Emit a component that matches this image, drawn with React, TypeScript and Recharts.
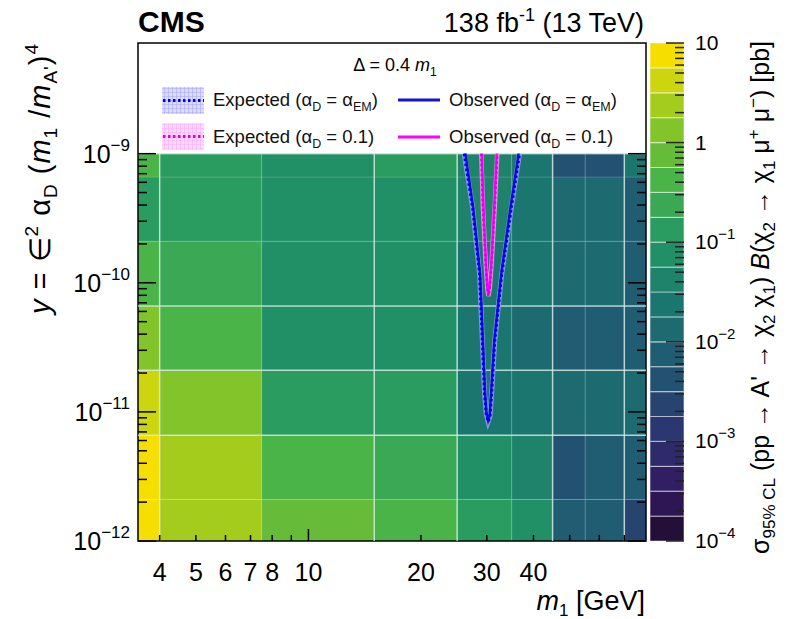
import React from "react";
import { ComposedChart, XAxis, YAxis, Line, ReferenceArea, ReferenceLine } from "recharts";

// ── Data ─────────────────────────────────────────────────────

// m1 bin edges [GeV] and y bin edges
const massEdges = [3.5, 4, 7.5, 15, 25, 35, 45, 55, 70, 80];
const yEdges = [1e-12, 2.1e-12, 6.6e-12, 2.1e-11, 6.6e-11, 2.1e-10, 6.6e-10, 1e-9];

// sigma_95%CL x B [pb]; one row per y bin (bottom to top), one value per m1 bin
const sigmaRows = [
  [7.5, 2.4, 0.75, 0.42, 0.13, 0.075, 0.0075, 0.0075, 0.0024],
  [7.5, 2.4, 0.42, 0.24, 0.075, 0.042, 0.0042, 0.0075, 0.0075],
  [4.2, 1.3, 0.13, 0.13, 0.024, 0.024, 0.013, 0.013, 0.013],
  [1.3, 0.42, 0.075, 0.075, 0.024, 0.013, 0.0075, 0.0075, 0.0075],
  [0.42, 0.24, 0.075, 0.075, 0.024, 0.024, 0.013, 0.013, 0.0075],
  [0.13, 0.13, 0.075, 0.075, 0.042, 0.024, 0.013, 0.013, 0.0075],
  [0.42, 0.13, 0.075, 0.13, 0.042, 0.024, 0.0042, 0.0042, 0.024],
];

// exclusion contours (m1 [GeV], y)
const expectedEM = [
  { x: 26.1, y: 1e-9 }, { x: 27.5, y: 3.8e-10 }, { x: 28.7, y: 1.17e-10 }, { x: 29.2, y: 3.5e-11 },
  { x: 29.6, y: 1.38e-11 }, { x: 29.9, y: 9.6e-12 }, { x: 30.25, y: 8.4e-12 }, { x: 30.6, y: 9.2e-12 },
  { x: 30.9, y: 1.38e-11 }, { x: 31.5, y: 3.5e-11 }, { x: 32.9, y: 1.17e-10 }, { x: 34.9, y: 3.8e-10 },
  { x: 36.7, y: 1e-9 },
];
const observedEM = [
  { x: 26.3, y: 1e-9 }, { x: 27.6, y: 3.8e-10 }, { x: 28.8, y: 1.17e-10 }, { x: 29.3, y: 3.5e-11 },
  { x: 29.7, y: 1.38e-11 }, { x: 29.95, y: 9.8e-12 }, { x: 30.25, y: 8.6e-12 }, { x: 30.55, y: 9.4e-12 },
  { x: 30.8, y: 1.38e-11 }, { x: 31.4, y: 3.5e-11 }, { x: 32.8, y: 1.17e-10 }, { x: 34.7, y: 3.8e-10 },
  { x: 36.5, y: 1e-9 },
];
const expectedD01 = [
  { x: 29.0, y: 1e-9 }, { x: 29.3, y: 3.8e-10 }, { x: 29.8, y: 1.4e-10 }, { x: 30.1, y: 9.0e-11 },
  { x: 30.3, y: 7.9e-11 }, { x: 30.55, y: 9.0e-11 }, { x: 30.9, y: 1.4e-10 }, { x: 31.5, y: 3.8e-10 },
  { x: 32.0, y: 1e-9 },
];
const observedD01 = [
  { x: 29.1, y: 1e-9 }, { x: 29.4, y: 3.8e-10 }, { x: 29.85, y: 1.4e-10 }, { x: 30.1, y: 9.2e-11 },
  { x: 30.3, y: 8.1e-11 }, { x: 30.5, y: 9.2e-11 }, { x: 30.85, y: 1.4e-10 }, { x: 31.4, y: 3.8e-10 },
  { x: 31.9, y: 1e-9 },
];

// ticks
const xTicks = [4, 5, 6, 7, 8, 9, 10, 20, 30, 40, 50, 60, 70];
const xLabels = [4, 5, 6, 7, 8, 10, 20, 30, 40];
const yTicks = [
  1e-12, 2e-12, 3e-12, 4e-12, 5e-12, 6e-12, 7e-12, 8e-12, 9e-12,
  1e-11, 2e-11, 3e-11, 4e-11, 5e-11, 6e-11, 7e-11, 8e-11, 9e-11,
  1e-10, 2e-10, 3e-10, 4e-10, 5e-10, 6e-10, 7e-10, 8e-10, 9e-10, 1e-9,
];
const zTicks = [
  1e-4, 2e-4, 3e-4, 4e-4, 5e-4, 6e-4, 7e-4, 8e-4, 9e-4,
  1e-3, 2e-3, 3e-3, 4e-3, 5e-3, 6e-3, 7e-3, 8e-3, 9e-3,
  0.01, 0.02, 0.03, 0.04, 0.05, 0.06, 0.07, 0.08, 0.09,
  0.1, 0.2, 0.3, 0.4, 0.5, 0.6, 0.7, 0.8, 0.9,
  1, 2, 3, 4, 5, 6, 7, 8, 9, 10,
];
const Z_MIN = 1e-4;
const Z_MAX = 10;
const Z_LEVELS = 20;

// bin boundaries that render as light seams
const seamX = [4, 15, 25, 45, 70];
const seamY = [6.6e-12, 2.1e-11, 6.6e-11];

// ── Palette ──────────────────────────────────────────────────

const viridisStops = [
  [26, 9, 30], [51, 24, 96], [43, 55, 112], [33, 87, 114], [28, 118, 112],
  [35, 150, 101], [74, 180, 72], [144, 200, 35], [246, 222, 0],
];

function viridis(t: number) {
  const p = Math.max(0, Math.min(1, t)) * 8;
  const k = Math.min(7, Math.floor(p));
  const f = p - k;
  const a = viridisStops[k];
  const b = viridisStops[k + 1];
  const c = a.map((v, i) => Math.round(v + (b[i] - v) * f));
  return `rgb(${c[0]},${c[1]},${c[2]})`;
}

function bandColor(band: number) {
  return viridis((band + 1) / Z_LEVELS);
}

function zColor(v: number) {
  const step = Math.log10(Z_MAX / Z_MIN) / Z_LEVELS;
  const band = Math.max(0, Math.min(Z_LEVELS - 1, Math.floor((Math.log10(v) - Math.log10(Z_MIN)) / step)));
  return bandColor(band);
}

// ── Helpers ──────────────────────────────────────────────────

const FONT = '"Liberation Sans", Arial, Helvetica, sans-serif';
const W = 787;
const H = 619;

const isDecade = (v: number) => {
  const e = Math.round(Math.log10(v));
  return Math.abs(v - Math.pow(10, e)) < 1e-6 * v;
};

// rich text: parts are [text, kind] with kind "" | "i" | "sub" | "sup"
type Part = [string, string?];

function rich(parts: Part[], small: number, subD: number, supD: number) {
  let cur = 0;
  return parts.map(([t, k], idx) => {
    const target = k === "sub" ? subD : k === "sup" ? -supD : 0;
    const dy = target - cur;
    cur = target;
    const script = k === "sub" || k === "sup";
    return (
      <tspan key={idx} dy={dy !== 0 ? dy : undefined} fontSize={script ? small : undefined} fontStyle={k === "i" ? "italic" : undefined}>
        {t}
      </tspan>
    );
  });
}

const PowLabel: React.FC<{ v: number; x: number; y: number; anchor: string; size: number; sup: number }> = ({ v, x, y, anchor, size, sup }) => {
  const e = Math.round(Math.log10(v));
  const parts: Part[] = e === 0 ? [["1"]] : e === 1 ? [["10"]] : [["10"], [`\u2212${-e}`, "sup"]];
  return (
    <text x={x} y={y} textAnchor={anchor} fontSize={size} fill="#000" fontFamily={FONT}>
      {rich(parts, sup, 0, size * 0.48)}
    </text>
  );
};

const XTick = (props: any) => {
  const { x, y, payload } = props;
  const v = payload.value;
  const major = v === 10;
  return (
    <g>
      <line x1={x} x2={x} y1={y} y2={y - (major ? 12 : 6)} stroke="#000" strokeWidth={1.5} />
      {xLabels.includes(v) && (
        <text x={x} y={y + 40} textAnchor="middle" fontSize={25} fill="#000" fontFamily={FONT}>{v}</text>
      )}
    </g>
  );
};

const YTickLeft = (props: any) => {
  const { x, y, payload } = props;
  const major = isDecade(payload.value);
  return (
    <g>
      <line x1={x} x2={x + (major ? 18 : 9)} y1={y} y2={y} stroke="#000" strokeWidth={1.5} />
      {major && <PowLabel v={payload.value} x={x - 8} y={y + 9} anchor="end" size={25} sup={17} />}
    </g>
  );
};

const YTickRight = (props: any) => {
  const { x, y, payload } = props;
  const major = isDecade(payload.value);
  return <line x1={x} x2={x - (major ? 18 : 9)} y1={y} y2={y} stroke="#000" strokeWidth={1.5} />;
};

const ZTick = (props: any) => {
  const { x, y, payload } = props;
  const major = isDecade(payload.value);
  return (
    <g>
      <line x1={x} x2={x - (major ? 18 : 9)} y1={y} y2={y} stroke="#222" strokeWidth={1.5} />
      {major && <PowLabel v={payload.value} x={x + 11} y={y + 7} anchor="start" size={21} sup={15} />}
    </g>
  );
};

// ── Main plot ────────────────────────────────────────────────

const MainPlot: React.FC = () => (
  <ComposedChart width={W} height={H} margin={{ top: 43, right: 0, bottom: 0, left: 0 }} style={{ position: "absolute", left: 0, top: 0 }}>
    <XAxis
      dataKey="x" type="number" scale="log" domain={[3.5, 80]} allowDataOverflow
      ticks={xTicks} interval={0} tick={XTick} tickLine={false} axisLine={false}
      tickSize={0} tickMargin={0} height={78}
    />
    <YAxis
      type="number" scale="log" domain={[1e-12, 7.2e-9]} allowDataOverflow
      ticks={yTicks} interval={0} tick={YTickLeft} tickLine={false} axisLine={false}
      tickSize={0} tickMargin={0} width={138}
    />
    <YAxis
      yAxisId="r" orientation="right" type="number" scale="log" domain={[1e-12, 7.2e-9]} allowDataOverflow
      ticks={yTicks} interval={0} tick={YTickRight} tickLine={false} axisLine={false}
      tickSize={0} tickMargin={0} width={141}
    />

    {sigmaRows.map((row, j) =>
      row.map((v, i) => (
        <ReferenceArea
          key={`c${j}-${i}`}
          x1={massEdges[i]} x2={massEdges[i + 1]} y1={yEdges[j]} y2={yEdges[j + 1]}
          fill={zColor(v)} fillOpacity={1} stroke="rgba(255,255,255,0.13)" strokeWidth={1}
        />
      ))
    )}
    {seamX.map((m) => (
      <ReferenceLine key={`sx${m}`} segment={[{ x: m, y: yEdges[0] }, { x: m, y: yEdges[yEdges.length - 1] }]} stroke="#d6ebe4" strokeOpacity={0.75} strokeWidth={1.5} />
    ))}
    {seamY.map((v) => (
      <ReferenceLine key={`sy${v}`} segment={[{ x: massEdges[0], y: v }, { x: massEdges[massEdges.length - 1], y: v }]} stroke="#d6ebe4" strokeOpacity={0.75} strokeWidth={1.5} />
    ))}
    <ReferenceLine segment={[{ x: massEdges[0], y: 1e-9 }, { x: massEdges[massEdges.length - 1], y: 1e-9 }]} stroke="#d6ebe4" strokeOpacity={0.6} strokeWidth={1.5} />

    {/* alpha_D = alpha_EM */}
    <Line data={expectedEM} dataKey="y" type="linear" stroke="#9d9dff" strokeWidth={5} strokeOpacity={0.8} dot={false} isAnimationActive={false} />
    <Line data={observedEM} dataKey="y" type="linear" stroke="#1414c8" strokeWidth={2.5} dot={false} isAnimationActive={false} />
    <Line data={expectedEM} dataKey="y" type="linear" stroke="#0000ff" strokeWidth={3} strokeDasharray="2.5 2.5" dot={false} isAnimationActive={false} />

    {/* alpha_D = 0.1 */}
    <Line data={expectedD01} dataKey="y" type="linear" stroke="#ff9dff" strokeWidth={4.5} strokeOpacity={0.8} dot={false} isAnimationActive={false} />
    <Line data={observedD01} dataKey="y" type="linear" stroke="#ff00ff" strokeWidth={2.5} dot={false} isAnimationActive={false} />
    <Line data={expectedD01} dataKey="y" type="linear" stroke="#e000e0" strokeWidth={2.5} strokeDasharray="2.5 2.5" dot={false} isAnimationActive={false} />

    <ReferenceArea x1={3.5} x2={80} y1={1e-12} y2={7.2e-9} fill="none" fillOpacity={0} stroke="#000" strokeWidth={1.5} />
  </ComposedChart>
);

// ── Colour bar ───────────────────────────────────────────────

const zStep = Math.log10(Z_MAX / Z_MIN) / Z_LEVELS;
const zBands = Array.from({ length: Z_LEVELS }, (_, i) => ({
  x: 0.5,
  lo: Math.pow(10, Math.log10(Z_MIN) + i * zStep),
  hi: Math.pow(10, Math.log10(Z_MIN) + (i + 1) * zStep),
  band: i,
}));

const ColorBar: React.FC = () => (
  <ComposedChart data={zBands} width={110} height={H} margin={{ top: 43, right: 0, bottom: 78, left: 0 }} style={{ position: "absolute", left: 650, top: 0 }}>
    <XAxis type="number" dataKey="x" domain={[0, 1]} allowDataOverflow hide />
    <YAxis
      orientation="right" type="number" scale="log" domain={[Z_MIN, Z_MAX]} allowDataOverflow
      ticks={zTicks} interval={0} tick={ZTick} tickLine={false} axisLine={false}
      tickSize={0} tickMargin={0} width={76}
    />
    {zBands.map((b) => (
      <ReferenceArea
        key={b.band}
        x1={0} x2={1} y1={b.lo} y2={b.hi}
        fill={bandColor(b.band)} fillOpacity={1} stroke="rgba(255,255,255,0.45)" strokeWidth={1.2}
      />
    ))}
  </ComposedChart>
);

// ── Titles and legend ────────────────────────────────────────

const Labels: React.FC = () => (
  <svg width={W} height={H} style={{ position: "absolute", left: 0, top: 0 }} fontFamily={FONT}>
    <defs>
      <pattern id="hatchBlue" width="4" height="4" patternUnits="userSpaceOnUse">
        <rect width="4" height="4" fill="#dcdcff" />
        <path d="M0 0H4M0 0V4" stroke="#a8a8ff" strokeWidth="1.2" />
      </pattern>
      <pattern id="hatchPink" width="4" height="4" patternUnits="userSpaceOnUse">
        <rect width="4" height="4" fill="#ffdcff" />
        <path d="M0 0H4M0 0V4" stroke="#ffa8ff" strokeWidth="1.2" />
      </pattern>
    </defs>

    <text x={138} y={32} fontSize={30} fontWeight="bold" fill="#000">CMS</text>
    <text x={644} y={32} fontSize={27} textAnchor="end" fill="#000">
      {rich([["138 fb"], ["-1", "sup"], [" (13 TeV)"]], 18, 0, 11)}
    </text>

    {/* legend */}
    <text x={395} y={71} fontSize={18} textAnchor="middle" fill="#000">
      {rich([["\u0394 = 0.4 "], ["m", "i"], ["1", "sub"]], 12, 5, 0)}
    </text>
    <rect x={162} y={87} width={42} height={27} fill="url(#hatchBlue)" />
    <line x1={163} x2={204} y1={100.5} y2={100.5} stroke="#0000ff" strokeWidth={3} strokeDasharray="2.5 2.5" />
    <text x={213} y={106} fontSize={18.5} fill="#111">
      {rich([["Expected (\u03b1"], ["D", "sub"], [" = \u03b1"], ["EM", "sub"], [")"]], 12.5, 5, 0)}
    </text>
    <line x1={398} x2={440} y1={100} y2={100} stroke="#1414c8" strokeWidth={3} />
    <text x={449} y={106} fontSize={18.5} fill="#111">
      {rich([["Observed (\u03b1"], ["D", "sub"], [" = \u03b1"], ["EM", "sub"], [")"]], 12.5, 5, 0)}
    </text>
    <rect x={162} y={123} width={42} height={27} fill="url(#hatchPink)" />
    <line x1={163} x2={204} y1={136.5} y2={136.5} stroke="#e000e0" strokeWidth={3} strokeDasharray="2.5 2.5" />
    <text x={213} y={143} fontSize={18.5} fill="#111">
      {rich([["Expected (\u03b1"], ["D", "sub"], [" = 0.1)"]], 12.5, 5, 0)}
    </text>
    <line x1={398} x2={440} y1={137} y2={137} stroke="#ff00ff" strokeWidth={3} />
    <text x={449} y={143} fontSize={18.5} fill="#111">
      {rich([["Observed (\u03b1"], ["D", "sub"], [" = 0.1)"]], 12.5, 5, 0)}
    </text>

    {/* x title */}
    <text x={645} y={610} fontSize={27} textAnchor="end" fill="#000">
      {rich([["m", "i"], ["1", "sub"], [" [GeV]"]], 17, 6, 0)}
    </text>

    {/* y title */}
    <text transform="translate(50,43) rotate(-90)" fontSize={29} letterSpacing={1} textAnchor="end" fill="#000">
      {rich([
        ["y", "i"], [" = \u2208"], ["2", "sup"], [" \u03b1"], ["D", "sub"], [" ("], ["m", "i"], ["1", "sub"],
        [" /"], ["m", "i"], ["A'", "sub"], [")"], ["4", "sup"],
      ], 19, 7, 12)}
    </text>

    {/* z title */}
    <text transform="translate(769,41) rotate(-90)" fontSize={25} textAnchor="end" fill="#000">
      {rich([
        ["\u03c3"], ["95% CL", "sub"], [" (pp \u2192 A' \u2192 \u03c7"], ["2", "sub"], [" \u03c7"], ["1", "sub"], [") "],
        ["B", "i"], ["(\u03c7"], ["2", "sub"], [" \u2192 \u03c7"], ["1", "sub"], [" \u03bc"], ["+", "sup"],
        [" \u03bc"], ["\u2212", "sup"], [") [pb]"],
      ], 17, 6, 10)}
    </text>
  </svg>
);

export default function App() {
  return (
    <div style={{ position: "absolute", left: 0, top: 0, width: W, height: H, background: "#fff", overflow: "hidden" }}>
      <MainPlot />
      <ColorBar />
      <Labels />
    </div>
  );
}
